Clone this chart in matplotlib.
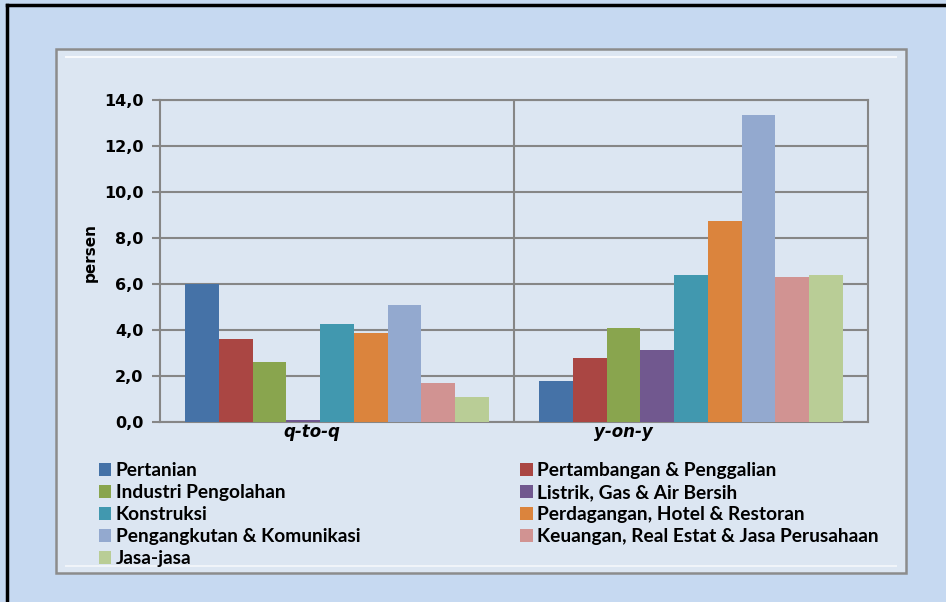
import matplotlib.pyplot as plt
import numpy as np
from matplotlib.patches import Rectangle, Patch
from matplotlib.lines import Line2D

# data
periods = ["q-to-q", "y-on-y"]
sectors = [
	"Pertanian",
	"Pertambangan & Penggalian",
	"Industri Pengolahan",
	"Listrik, Gas & Air Bersih",
	"Konstruksi",
	"Perdagangan, Hotel & Restoran",
	"Pengangkutan & Komunikasi",
	"Keuangan, Real Estat & Jasa Perusahaan",
	"Jasa-jasa",
]
q_to_q = [6.0, 3.6, 2.6, 0.1, 4.25, 3.85, 5.1, 1.7, 1.1]
y_on_y = [1.8, 2.8, 4.1, 3.15, 6.4, 8.75, 13.35, 6.3, 6.4]
yticks = [0, 2, 4, 6, 8, 10, 12, 14]
colors = ["#4572A7", "#AA4643", "#89A54E", "#71588F", "#4198AF",
		  "#DB843D", "#93A9CF", "#D19392", "#B9CD96"]

W, H = 946, 602
fig = plt.figure(figsize=(W / 100, H / 100), dpi=100)
fig.patch.set_facecolor("#c6d9f1")

# outer black frame (top and left visible)
fig.add_artist(Line2D([7 / W, 7 / W], [0, 1 - 5 / H], color="black", lw=2.5, transform=fig.transFigure))
fig.add_artist(Line2D([7 / W, 1], [1 - 5 / H, 1 - 5 / H], color="black", lw=2.5, transform=fig.transFigure))

# inner chart panel
fig.add_artist(Rectangle((56 / W, 1 - 573 / H), 850 / W, 524 / H, transform=fig.transFigure,
						 facecolor="#dce6f2", edgecolor="#8c8c8c", lw=1.8, zorder=0))
fig.add_artist(Line2D([66 / W, 896 / W], [1 - 57 / H, 1 - 57 / H], color="white", lw=1.5,
					  alpha=0.8, transform=fig.transFigure))
fig.add_artist(Line2D([66 / W, 896 / W], [1 - 566 / H, 1 - 566 / H], color="white", lw=1.5,
					  alpha=0.6, transform=fig.transFigure))

ax = fig.add_axes([160 / W, 1 - 422 / H, 708 / W, 322 / H])
ax.set_facecolor("none")

n = len(sectors)
width = 1.0 / (n + 1.5)
x = np.arange(len(periods))
for i in range(n):
	offs = (i - (n - 1) / 2) * width
	ax.bar(x + offs, [q_to_q[i], y_on_y[i]], width, color=colors[i], label=sectors[i], zorder=3)

ax.set_xlim(-0.5, 1.5)
ax.set_ylim(0, 14)
ax.set_yticks(yticks)
ax.set_yticklabels([("%.1f" % t).replace(".", ",") for t in yticks],
				   fontsize=11.5, fontweight="bold", family="DejaVu Sans")
# category labels sit left of the group centre in the original
ax.set_xticks(x + np.array([-0.07, -0.19]))
ax.set_xticklabels(periods, fontsize=12, fontweight="bold", style="italic", family="DejaVu Sans")
ax.tick_params(axis="x", length=0, pad=1)
ax.tick_params(axis="y", length=6, width=1.5, color="#868686", pad=6)
ax.set_ylabel("persen", fontsize=11, fontweight="bold", family="DejaVu Sans")
ax.yaxis.set_label_coords(-0.088, 0.527)

ax.grid(axis="y", color="#868686", lw=1.5, zorder=1)
ax.axvline(0.5, color="#868686", lw=1.5, zorder=1)
for s in ax.spines.values():
	s.set_color("#868686")
	s.set_linewidth(1.5)

# legend: row-major order like the original
handles = [Patch(facecolor=c) for c in colors]
order = [0, 2, 4, 6, 8, 1, 3, 5, 7]
leg = fig.legend([handles[i] for i in order], [sectors[i] for i in order], ncol=2,
				 loc="upper left", bbox_to_anchor=(99 / W, 1 - 462 / H), frameon=False,
				 prop={"family": "Lato", "weight": "bold", "size": 13.8},
				 handlelength=0.65, handleheight=0.65, handletextpad=0.22,
				 labelspacing=0.26, columnspacing=8.35, borderpad=0, borderaxespad=0)

fig.savefig("out.png", dpi=100, facecolor=fig.get_facecolor())
